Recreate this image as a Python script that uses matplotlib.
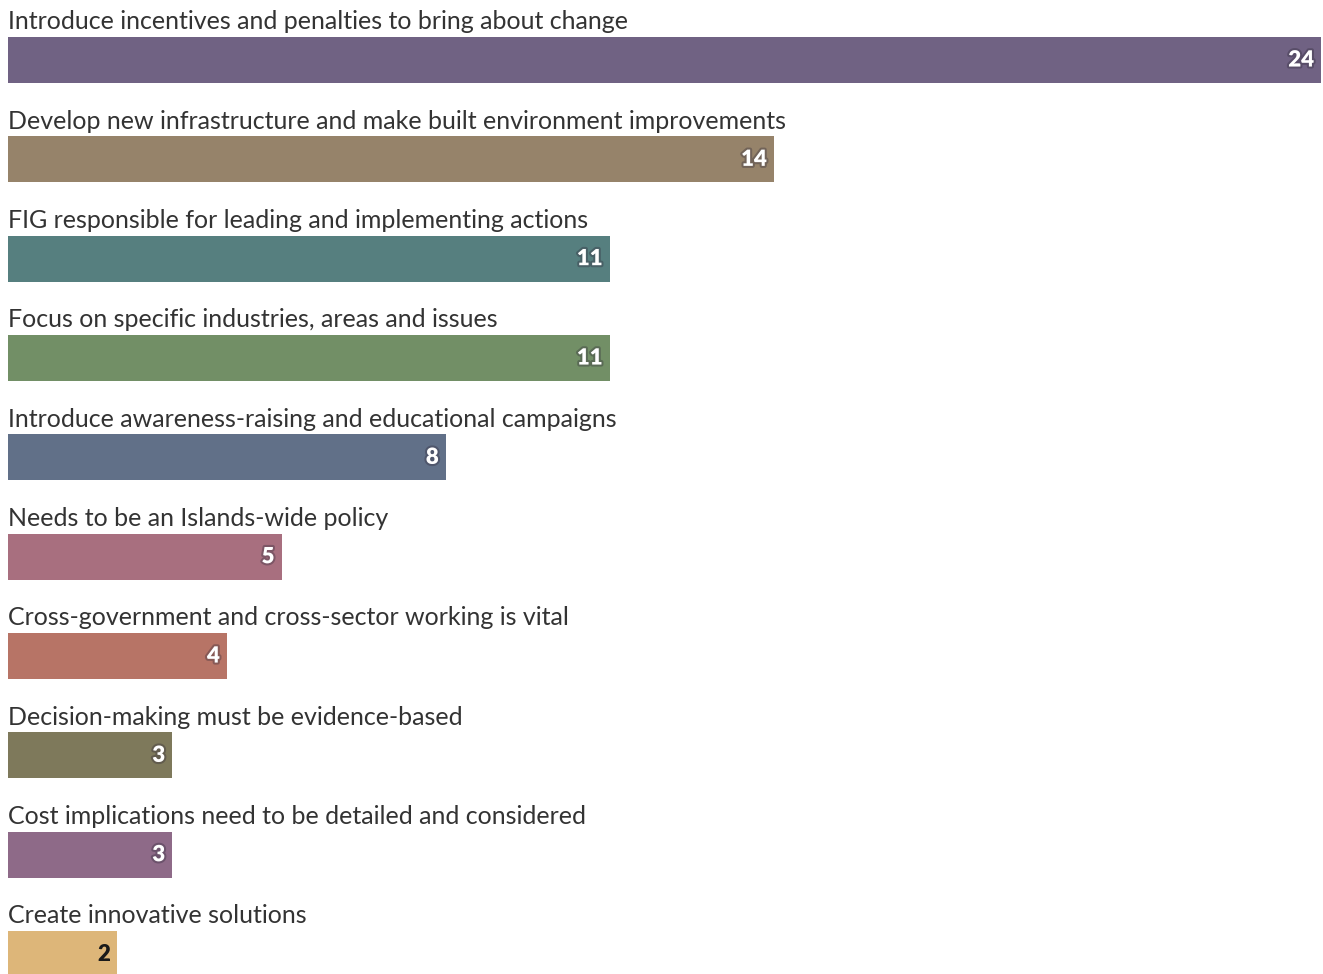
import matplotlib.pyplot as plt
import matplotlib.patheffects as pe

labels = [
    'Introduce incentives and penalties to bring about change',
    'Develop new infrastructure and make built environment improvements',
    'FIG responsible for leading and implementing actions',
    'Focus on specific industries, areas and issues',
    'Introduce awareness-raising and educational campaigns',
    'Needs to be an Islands-wide policy',
    'Cross-government and cross-sector working is vital',
    'Decision-making must be evidence-based',
    'Cost implications need to be detailed and considered',
    'Create innovative solutions',
]
values = [24, 14, 11, 11, 8, 5, 4, 3, 3, 2]
colors = ['#706283', '#96836a', '#567f7f', '#728f66', '#617088',
          '#a86f7f', '#b77466', '#7e795b', '#8e6a88', '#ddb679']

plt.rcParams['font.family'] = ['Lato', 'DejaVu Sans']

fig = plt.figure(figsize=(13.23, 9.74), dpi=100)
ax = fig.add_axes([8 / 1323, 0, 1313 / 1323, 1])

pos = list(range(len(values)))
ax.barh(pos, values, height=0.465, color=colors)
ax.set_xlim(0, 24)
ax.set_ylim(9.201, -0.604)

for i, (lab, v) in enumerate(zip(labels, values)):
    ax.text(0, i - 0.385, lab, ha='left', va='center', fontsize=18, color='#333333')
    dark = i == len(values) - 1
    t = ax.annotate(str(v), (v, i), xytext=(-5, 0), textcoords='offset points',
                    ha='right', va='center', fontsize=16, fontweight='heavy',
                    color='#1a1a1a' if dark else 'white')
    if not dark:
        t.set_path_effects([pe.withStroke(linewidth=3, foreground='#2e2838', alpha=0.35)])

ax.axis('off')
fig.savefig('out.png', dpi=100)
